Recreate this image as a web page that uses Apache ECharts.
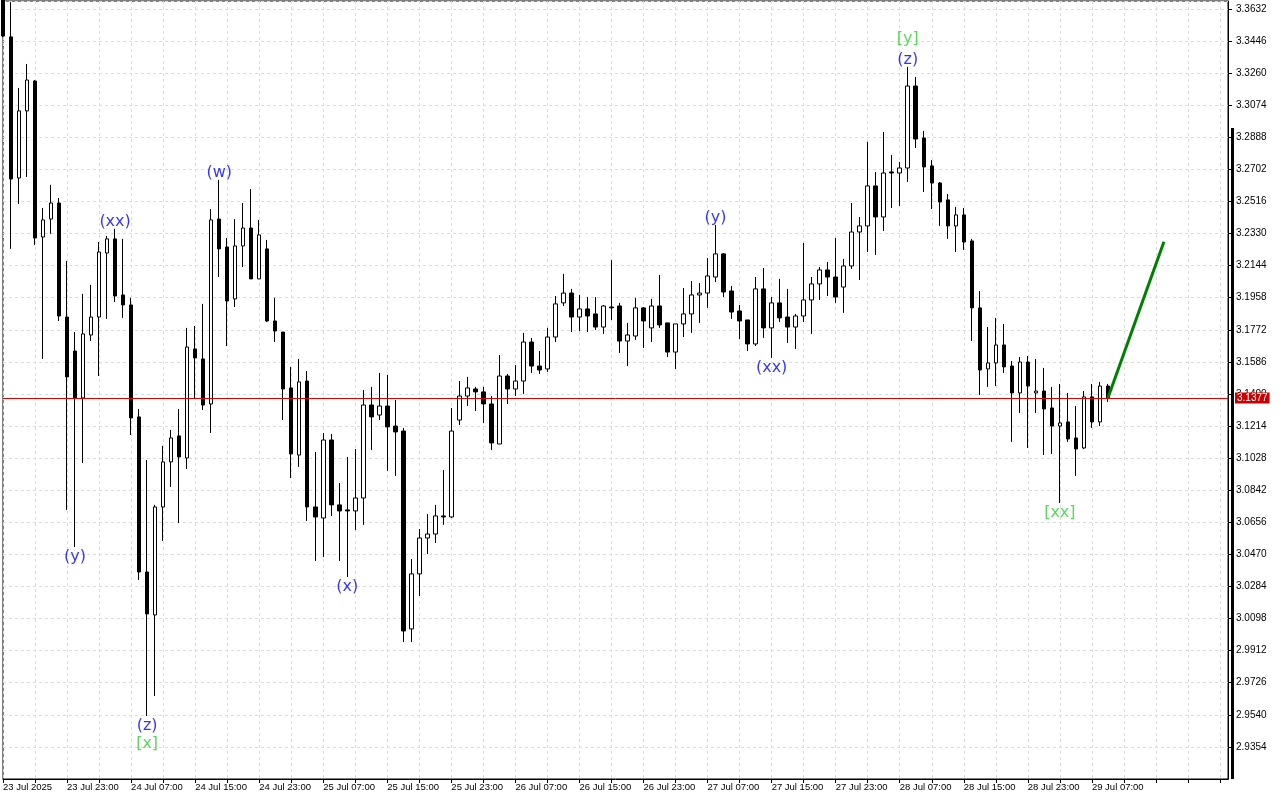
<!DOCTYPE html>
<html>
<head>
<meta charset="utf-8">
<script src="https://cdn.jsdelivr.net/npm/echarts@6/dist/echarts.min.js"></script>
<style>
html,body{margin:0;padding:0;background:#fff;}
#chart{width:1280px;height:800px;}
</style>
</head>
<body>
<div id="chart"></div>
<script>
// ---------- DATA ----------
const openPrices = [
3.3760,3.3470,3.2652,3.3041,3.3214,3.2310,3.2414,3.2507,3.1846,3.1649,
3.1377,3.1742,3.1846,3.2217,3.2299,3.1974,3.1916,3.1267,3.0368,3.0119,
3.0745,3.1006,3.1157,3.1029,3.1661,3.1603,3.1342,3.2414,3.2252,3.1951,
3.2258,3.2362,3.2067,3.2241,3.1823,3.1759,3.1435,3.1046,3.1475,3.0745,
3.0681,3.1133,3.0757,3.0728,3.0722,3.0797,3.1336,3.1278,3.1330,3.1214,
3.1185,3.0038,3.0357,3.0565,3.0588,3.0693,3.0687,3.1249,3.1388,3.1429,
3.1412,3.1342,3.1110,3.1504,3.1429,3.1475,3.1701,3.1562,3.1545,3.1730,
3.1928,3.1985,3.1846,3.1893,3.1864,3.1788,3.1904,3.1910,3.1707,3.1736,
3.1899,3.1783,3.1910,3.1812,3.1643,3.1806,3.1864,3.1974,3.1985,3.2078,
3.2212,3.1997,3.1881,3.1829,3.1690,3.2009,3.1783,3.1928,3.1846,3.1788,
3.1852,3.1945,3.2038,3.2119,3.2078,3.2020,3.2142,3.2339,3.2374,3.2606,
3.2426,3.2687,3.2681,3.2710,3.3185,3.2884,3.2722,3.2623,3.2525,3.2374,
3.2438,3.2287,3.1899,3.1545,3.1580,3.1684,3.1562,3.1406,3.1585,3.1406,
3.1417,3.1319,3.1214,3.1238,3.1145,3.1087,3.1383,3.1238,3.1446
];
const highPrices = [
3.3800,3.3672,3.3174,3.3313,3.3220,3.2478,3.2612,3.2536,3.2171,3.1759,
3.1980,3.2032,3.2281,3.2316,3.2357,3.2299,3.1957,3.1313,3.1017,3.0757,
3.1099,3.1191,3.1313,3.1783,3.1794,3.1922,3.2472,3.2641,3.2304,3.2414,
3.2507,3.2588,3.2409,3.2293,3.1957,3.1759,3.1557,3.1603,3.1533,3.1064,
3.1174,3.1168,3.0884,3.1035,3.1081,3.1423,3.1441,3.1522,3.1510,3.1365,
3.1203,3.0443,3.0617,3.0704,3.0757,3.0959,3.1319,3.1475,3.1499,3.1441,
3.1441,3.1388,3.1626,3.1516,3.1568,3.1754,3.1725,3.1649,3.1783,3.1968,
3.2096,3.2009,3.1974,3.1962,3.1962,3.1916,3.2177,3.1928,3.1812,3.1957,
3.1904,3.1951,3.2090,3.1812,3.1806,3.2014,3.2055,3.2043,3.2188,3.2380,
3.2217,3.2026,3.1916,3.1829,3.2078,3.2130,3.1962,3.2067,3.2009,3.1864,
3.2275,3.2078,3.2136,3.2165,3.2304,3.2183,3.2507,3.2426,3.2861,3.2687,
3.2919,3.2785,3.2745,3.3296,3.3238,3.2925,3.2756,3.2629,3.2559,3.2484,
3.2478,3.2299,3.1997,3.1788,3.1841,3.1806,3.1591,3.1614,3.1620,3.1603,
3.1551,3.1441,3.1458,3.1406,3.1330,3.1417,3.1458,3.1470,3.1458
];
const lowPrices = [
3.3468,3.2241,3.2501,3.2658,3.2264,3.1603,3.2328,3.1823,3.0728,3.0513,
3.1000,3.1707,3.1504,3.1835,3.1933,3.1841,3.1162,3.0322,2.9533,2.9649,
3.0548,3.0861,3.0652,3.0965,3.1377,3.1307,3.1174,3.2078,3.1678,3.1904,
3.2136,3.2067,3.2067,3.1817,3.1701,3.1249,3.0913,3.0977,3.0664,3.0432,
3.0455,3.0693,3.0432,3.0339,3.0612,3.0641,3.1075,3.1249,3.0954,3.0925,
2.9962,2.9962,3.0229,3.0472,3.0536,3.0641,3.0681,3.1220,3.1330,3.1301,
3.1232,3.1075,3.1110,3.1342,3.1388,3.1400,3.1522,3.1516,3.1528,3.1701,
3.1910,3.1759,3.1765,3.1759,3.1771,3.1748,3.1829,3.1638,3.1562,3.1713,
3.1667,3.1701,3.1783,3.1614,3.1545,3.1730,3.1754,3.1812,3.1899,3.2049,
3.1962,3.1835,3.1719,3.1649,3.1678,3.1725,3.1609,3.1817,3.1696,3.1661,
3.1817,3.1748,3.1945,3.1968,3.1928,3.1870,3.2125,3.2061,3.2223,3.2206,
3.2345,3.2478,3.2490,3.2629,3.2826,3.2571,3.2472,3.2374,3.2299,3.2223,
3.2235,3.1707,3.1394,3.1441,3.1446,3.1522,3.1122,3.1290,3.1087,3.1290,
3.1046,3.1052,3.0768,3.1122,3.0925,3.1081,3.1203,3.1214,3.1354
];
const closePrices = [
3.3475,3.2646,3.3041,3.3220,3.2304,3.2409,3.2507,3.1852,3.1499,3.1377,
3.1748,3.1846,3.2223,3.2299,3.1968,3.1916,3.1261,3.0368,3.0125,3.0745,
3.1006,3.1145,3.1035,3.1672,3.1609,3.1336,3.2409,3.2241,3.1939,3.2258,
3.2362,3.2067,3.2322,3.1823,3.1765,3.1429,3.1052,3.1470,3.0745,3.0687,
3.1133,3.0757,3.0722,3.0722,3.0797,3.1336,3.1267,3.1330,3.1209,3.1180,
3.0026,3.0357,3.0565,3.0588,3.0693,3.0687,3.1185,3.1388,3.1435,3.1412,
3.1342,3.1116,3.1504,3.1429,3.1475,3.1701,3.1562,3.1539,3.1730,3.1922,
3.1985,3.1846,3.1893,3.1852,3.1788,3.1910,3.1899,3.1707,3.1742,3.1899,
3.1823,3.1910,3.1800,3.1643,3.1806,3.1864,3.1974,3.1985,3.2084,3.2212,
3.1991,3.1875,3.1823,3.1690,3.2009,3.1783,3.1928,3.1841,3.1788,3.1852,
3.1945,3.2038,3.2119,3.2078,3.1962,3.2142,3.2339,3.2374,3.2606,3.2426,
3.2681,3.2681,3.2710,3.3185,3.2878,3.2716,3.2623,3.2513,3.2374,3.2438,
3.2281,3.1899,3.1539,3.1580,3.1684,3.1557,3.1406,3.1585,3.1446,3.1417,
3.1313,3.1214,3.1232,3.1139,3.1081,3.1383,3.1238,3.1446,3.1377
];

// hourly bars; axis extends past the last bar (chart shift area)
const firstBarUTC = Date.UTC(2025, 6, 23, 15);
const axisBarCount = 154;
const xTickLabels = [
'23 Jul 2025','23 Jul 23:00','24 Jul 07:00','24 Jul 15:00','24 Jul 23:00','25 Jul 07:00',
'25 Jul 15:00','25 Jul 23:00','26 Jul 07:00','26 Jul 15:00','26 Jul 23:00','27 Jul 07:00',
'27 Jul 15:00','27 Jul 23:00','28 Jul 07:00','28 Jul 15:00','28 Jul 23:00','29 Jul 07:00'
];
const labelEveryBars = 8;

// price scale
const priceMin = 2.9168;
const priceMax = 3.3678;
const priceStep = 0.0186;
const currentPrice = 3.1377;

// projection line (bar index, price)
const projectionBars = [138, 145];
const projectionPrices = [3.1377, 3.2283];

// wave labels: bar index, text, degree, anchor, stack level
const waveBars    = [9, 14, 18, 18, 27, 43, 89, 96, 113, 113, 132];
const waveTexts   = ['(y)','(xx)','(z)','[x]','(w)','(x)','(y)','(xx)','(z)','[y]','[xx]'];
const waveDegrees = ['minor','minor','minor','major','minor','minor','minor','minor','minor','major','major'];
const waveAnchors = ['low','high','low','low','high','low','high','low','high','high','low'];
const waveLevels  = [0,0,0,1,0,0,0,0,0,1,0];

// ---------- BUILD ----------
const categories = Array.from({length: axisBarCount}, (_, i) =>
  new Date(firstBarUTC + i * 3600e3).toISOString().slice(0, 13));

const candleData = openPrices.map((o, i) => [o, closePrices[i], lowPrices[i], highPrices[i]]);

const degreeColor = {minor: '#0000ff', major: '#32cd32'};
const waveData = waveBars.map((k, i) => {
  const isHigh = waveAnchors[i] === 'high';
  const dy = isHigh ? -(7 + 21 * waveLevels[i]) : (10 + 18 * waveLevels[i]);
  return {
    value: [k, isHigh ? highPrices[k] : lowPrices[k]],
    label: {show: true, formatter: waveTexts[i], color: degreeColor[waveDegrees[i]], position: 'inside', offset: [0, dy]}
  };
});

const gridLineStyle = {color: '#dcdcdc', type: [3, 3], width: 1};
const xFont = 'Liberation Sans Narrow, Liberation Sans, Arial, sans-serif';
const yFont = 'Liberation Sans, Arial, sans-serif';

const chart = echarts.init(document.getElementById('chart'), null, {renderer: 'canvas'});
chart.setOption({
  animation: false,
  backgroundColor: '#ffffff',
  grid: {left: 2.5, right: 52, top: 1, bottom: 21, show: true, borderColor: '#000', borderWidth: 1, backgroundColor: '#fff'},
  xAxis: {
    type: 'category',
    data: categories,
    boundaryGap: false,
    axisLine: {show: true, lineStyle: {color: '#000', width: 1}},
    axisTick: {show: true, interval: 3, length: 4, lineStyle: {color: '#000'}},
    axisLabel: {
      interval: labelEveryBars - 1, align: 'left', color: '#000', fontSize: 9.5, margin: 3,
      fontFamily: xFont,
      formatter: (v, i) => xTickLabels[i / labelEveryBars] || ''
    },
    splitLine: {show: true, interval: 3, lineStyle: gridLineStyle}
  },
  yAxis: {
    type: 'value',
    position: 'right',
    min: priceMin, max: priceMax, interval: priceStep,
    scale: true,
    axisLine: {show: true, lineStyle: {color: '#000', width: 1}},
    axisTick: {show: true, length: 4, lineStyle: {color: '#000'}},
    axisLabel: {
      color: '#000', fontSize: 10, margin: 8, fontFamily: yFont,
      showMinLabel: false, showMaxLabel: false,
      formatter: v => v.toFixed(4)
    },
    splitLine: {show: true, lineStyle: gridLineStyle}
  },
  series: [
    {
      type: 'candlestick',
      data: candleData,
      barWidth: 4,
      clip: true,
      itemStyle: {color: '#ffffff', color0: '#000000', borderColor: '#000000', borderColor0: '#000000', borderWidth: 1},
      markLine: {
        silent: true, symbol: 'none', animation: false, precision: 4,
        lineStyle: {color: '#e00000', width: 1, type: 'solid'},
        label: {
          show: true, position: 'end', distance: 7,
          formatter: p => Number(p.value).toFixed(4),
          color: '#fff', backgroundColor: '#cc0000', padding: [1, 2, 0, 2], lineHeight: 10,
          fontSize: 10, fontFamily: yFont
        },
        data: [{yAxis: currentPrice}]
      },
      z: 3
    },
    {
      type: 'line',
      data: projectionBars.map((k, i) => [k, projectionPrices[i]]),
      symbol: 'none',
      lineStyle: {color: '#008000', width: 3},
      silent: true,
      z: 4
    },
    {
      type: 'scatter',
      data: waveData,
      symbol: 'circle',
      symbolSize: 1,
      itemStyle: {color: 'rgba(0,0,0,0)'},
      label: {fontFamily: 'DejaVu Sans, Verdana, sans-serif', fontSize: 16},
      silent: true,
      z: 5
    }
  ],
  graphic: [
    {type: 'rect', shape: {x: 1231, y: 128, width: 3, height: 651}, style: {fill: '#000'}, z: 10}
  ]
});
</script>
</body>
</html>
